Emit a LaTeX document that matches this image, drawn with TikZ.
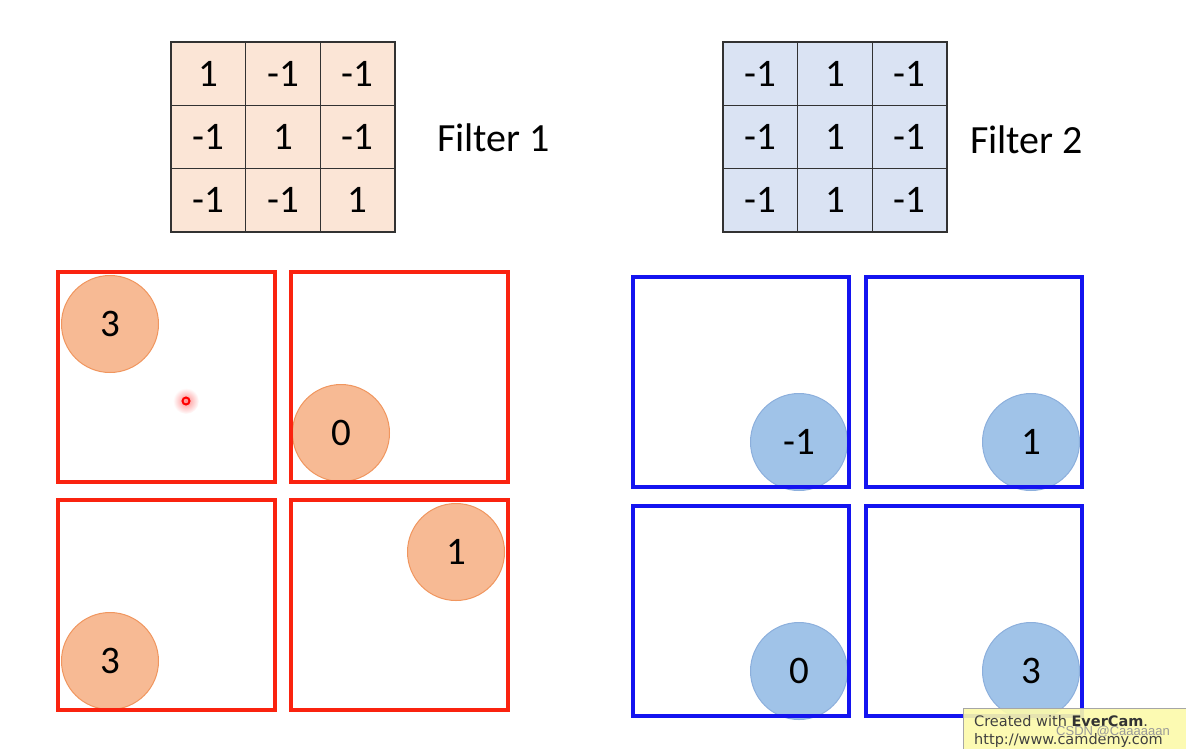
\documentclass[tikz,border=0pt]{standalone}
\usepackage{fontspec}
\setmainfont{Carlito}
\newfontfamily\evfont{DejaVu Sans}
\newfontfamily\csdnfont{Liberation Sans}
\usepackage{xcolor}
\usetikzlibrary{positioning}

\definecolor{peach}{RGB}{251,229,214}
\definecolor{paleblue}{RGB}{218,227,243}
\definecolor{gridline}{RGB}{50,50,50}
\definecolor{boxred}{RGB}{250,35,15}
\definecolor{boxblue}{RGB}{20,20,240}
\definecolor{dotorange}{RGB}{247,186,148}
\definecolor{dotorangeedge}{RGB}{240,150,95}
\definecolor{dotblue}{RGB}{160,195,232}
\definecolor{dotblueedge}{RGB}{140,175,220}
\definecolor{evyellow}{RGB}{252,250,170}

\tikzset{
  cell/.style={draw=gridline,line width=1.5pt,minimum width=74.67pt,
    minimum height=63.33pt,inner sep=0pt,font=\fontsize{39}{42}\selectfont},
  cellA/.style={cell,fill=peach},
  cellB/.style={cell,fill=paleblue},
  flabel/.style={anchor=west,inner sep=0pt,font=\fontsize{40}{44}\selectfont},
  mapred/.style={draw=boxred,line width=4pt},
  mapblue/.style={draw=boxblue,line width=4pt},
  hitA/.style={circle,fill=dotorange,draw=dotorangeedge,line width=1pt,
    minimum size=97pt,inner sep=0pt,font=\fontsize{39}{42}\selectfont},
  hitB/.style={hitA,fill=dotblue,draw=dotblueedge},
}

\begin{document}
\begin{tikzpicture}[x=1pt,y=-1pt]
  \useasboundingbox (0,0) rectangle (1186,748);
  \def\cw{74.67}
  \def\ch{63.33}
  % --- filter 1 ---
  \foreach [count=\r] \vals in {{1,-1,-1},{-1,1,-1},{-1,-1,1}} {
    \foreach [count=\c] \v in \vals {
      \node[cellA] (fa-\r-\c) at ({171+\cw*(\c-0.5)},{42+\ch*(\r-0.5)}) {\v};
    }
  }
  \node[flabel] (fa-label) at (437,138) {Filter 1};
  % --- filter 2 ---
  \foreach [count=\r] \vals in {{-1,1,-1},{-1,1,-1},{-1,1,-1}} {
    \foreach [count=\c] \v in \vals {
      \node[cellB] (fb-\r-\c) at ({723+\cw*(\c-0.5)},{42+\ch*(\r-0.5)}) {\v};
    }
  }
  \node[flabel] (fb-label) at (970,140) {Filter 2};
  % --- feature map of filter 1 ---
  \node[hitA] (ha-1) at (110,324) {3};
  \node[hitA] (ha-2) at (341,433) {0};
  \node[hitA] (ha-3) at (456,552) {1};
  \node[hitA] (ha-4) at (110,661) {3};
  \foreach \x/\y in {58/272,291/272,58/500,291/500} {
    \draw[mapred] (\x,\y) rectangle ++(217,210);
  }
  % --- feature map of filter 2 ---
  \node[hitB] (hb-1) at (799,442) {-1};
  \node[hitB] (hb-2) at (1031,442) {1};
  \node[hitB] (hb-3) at (799,671) {0};
  \node[hitB] (hb-4) at (1031,671) {3};
  \foreach \x/\y in {633/277,866/277,633/506,866/506} {
    \draw[mapblue] (\x,\y) rectangle ++(216,210);
  }
  % cursor mark
  \shade[inner color=red!45,outer color=white] (186,401) circle (13);
  \draw[red,line width=2pt] (186,401) circle (3.5);
  % --- watermark ---
  \draw[gray!70,fill=evyellow,fill opacity=0.9] (963,708) rectangle (1190,752);
  \node[anchor=west,inner sep=0pt,text=gray!50!black,
        font=\evfont\fontsize{14.5}{16}\selectfont] (ev-1) at (974,721)
        {Created with \textbf{\color{black!80}EverCam}.};
  \node[anchor=west,inner sep=0pt,text=gray!50!black,
        font=\evfont\fontsize{14.5}{16}\selectfont] (ev-2) at (974,740)
        {http://www.camdemy.com};
  \node[anchor=west,inner sep=0pt,text=black!40,
        font=\csdnfont\fontsize{13}{15}\selectfont] (csdn) at (1056,732)
        {CSDN @Caaaaaan};
\end{tikzpicture}
\end{document}
